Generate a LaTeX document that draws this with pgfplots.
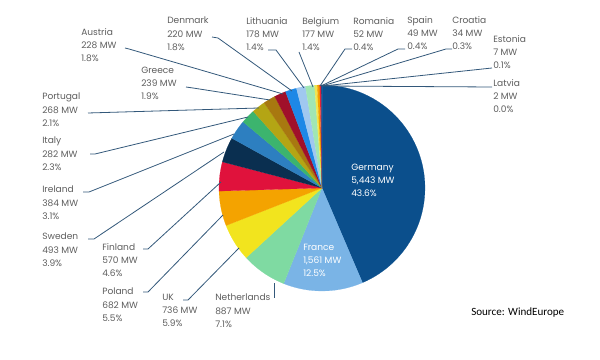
\documentclass[border=0pt]{standalone}
\usepackage{pgfplots}
\pgfplotsset{compat=1.18}
\usepackage{pgfplotstable}
\usepackage{fontspec}
\setmainfont{Poppins}
\newfontfamily\carlito{Carlito}

\definecolor{cGermany}{HTML}{0B4F8C}
\definecolor{cFrance}{HTML}{7AB4E6}
\definecolor{cNetherlands}{HTML}{7FDAA2}
\definecolor{cUK}{HTML}{F2E41E}
\definecolor{cPoland}{HTML}{F4A300}
\definecolor{cFinland}{HTML}{E0123C}
\definecolor{cSweden}{HTML}{0A2F50}
\definecolor{cIreland}{HTML}{2D7FC0}
\definecolor{cItaly}{HTML}{3CB46E}
\definecolor{cPortugal}{HTML}{B4A514}
\definecolor{cGreece}{HTML}{A87810}
\definecolor{cAustria}{HTML}{A0102A}
\definecolor{cDenmark}{HTML}{1E88E6}
\definecolor{cLithuania}{HTML}{A0C8F0}
\definecolor{cBelgium}{HTML}{A0E6B4}
\definecolor{cRomania}{HTML}{F0E650}
\definecolor{cSpain}{HTML}{F5A000}
\definecolor{cCroatia}{HTML}{E0203C}
\definecolor{cEstonia}{HTML}{0A2F50}
\definecolor{cLatvia}{HTML}{1E88E6}
\definecolor{leader}{HTML}{33587A}
\definecolor{labelgray}{HTML}{5E5E5E}

\pgfplotstableread[col sep=comma]{
name,mw,color
Germany,5443,cGermany
France,1561,cFrance
Netherlands,887,cNetherlands
UK,736,cUK
Poland,682,cPoland
Finland,570,cFinland
Sweden,493,cSweden
Ireland,384,cIreland
Italy,282,cItaly
Portugal,268,cPortugal
Greece,239,cGreece
Austria,228,cAustria
Denmark,220,cDenmark
Lithuania,178,cLithuania
Belgium,177,cBelgium
Romania,52,cRomania
Spain,49,cSpain
Croatia,34,cCroatia
Estonia,7,cEstonia
Latvia,2,cLatvia
}\piedata

\begin{document}
\begin{tikzpicture}[
  lbl/.style={font=\fontsize{6.8}{9.8}\selectfont, text=labelgray, align=left, anchor=north west, inner sep=0pt},
  wl/.style={font=\fontsize{6.8}{9.8}\selectfont, text=white, align=left, anchor=north west, inner sep=0pt},
  ll/.style={draw=leader, line width=0.6pt}]
\begin{axis}[hide axis, scale only axis, width=450pt, height=270pt,
  xmin=0, xmax=600, ymin=0, ymax=360, clip=false, no markers]
% total
\pgfplotstablegetrowsof{\piedata}
\pgfmathtruncatemacro{\nrows}{\pgfplotsretval-1}
\def\total{0}
\pgfplotsforeachungrouped \i in {0,...,\nrows}{%
  \pgfplotstablegetelem{\i}{mw}\of\piedata
  \pgfmathsetmacro{\total}{\total+\pgfplotsretval}%
}
\def\cum{0}
\pgfplotsforeachungrouped \i in {0,...,\nrows}{%
  \pgfplotstablegetelem{\i}{mw}\of\piedata \let\v\pgfplotsretval
  \pgfplotstablegetelem{\i}{color}\of\piedata \let\c\pgfplotsretval
  \pgfmathsetmacro{\a}{90-360*(\cum/\total)}%
  \pgfmathsetmacro{\cum}{\cum+\v}%
  \pgfmathsetmacro{\b}{90-360*(\cum/\total)}%
  \edef\tmp{\noexpand\addplot[fill=\c, draw=\c, line width=0.1pt, domain=\b:\a, samples=60]
    ({322+103*cos(x)},{172+103*sin(x)}) -- (axis cs:322,172) -- cycle;}%
  \tmp
}
% leader lines
\addplot[ll] coordinates {(492,273) (323,274)};
\addplot[ll] coordinates {(492,292) (323,274)};
\addplot[ll] coordinates {(452,311) (446,311) (322,274)};
\addplot[ll] coordinates {(405,311) (398,311) (321,274)};
\addplot[ll] coordinates {(352,311) (345,311) (320,274)};
\addplot[ll] coordinates {(299,308) (313,273)};
\addplot[ll] coordinates {(268,310) (276,310) (304,272)};
\addplot[ll] coordinates {(212,323) (218,322) (292,269)};
\addplot[ll] coordinates {(125,312) (129,311) (283,266)};
\addplot[ll] coordinates {(186,273) (193,272) (270,260)};
\addplot[ll] coordinates {(88,247) (259,252)};
\addplot[ll] coordinates {(90,206) (95,206) (248,243)};
\addplot[ll] coordinates {(83,168) (89,168) (234,226)};
\addplot[ll] coordinates {(88,121) (94,121) (224,208)};
\addplot[ll] coordinates {(143,111) (148,111) (221,178)};
\addplot[ll] coordinates {(143,68) (148,68) (223,145)};
\addplot[ll] coordinates {(183,60) (188,60) (239,112)};
\addplot[ll] coordinates {(274,62) (274,77)};
% labels
\node[lbl] at (axis cs:81,332) {Austria\\228 MW\\1.8\%};
\node[lbl] at (axis cs:167,343) {Denmark\\220 MW\\1.8\%};
\node[lbl] at (axis cs:246,343) {Lithuania\\178 MW\\1.4\%};
\node[lbl] at (axis cs:302,343) {Belgium\\177 MW\\1.4\%};
\node[lbl] at (axis cs:353,343) {Romania\\52 MW\\0.4\%};
\node[lbl] at (axis cs:407,344) {Spain\\49 MW\\0.4\%};
\node[lbl] at (axis cs:452,344) {Croatia\\34 MW\\0.3\%};
\node[lbl] at (axis cs:493,325) {Estonia\\7 MW\\0.1\%};
\node[lbl] at (axis cs:493,281) {Latvia\\2 MW\\0.0\%};
\node[lbl] at (axis cs:141,293) {Greece\\239 MW\\1.9\%};
\node[lbl] at (axis cs:42,267) {Portugal\\268 MW\\2.1\%};
\node[lbl] at (axis cs:42,223) {Italy\\282 MW\\2.3\%};
\node[lbl] at (axis cs:42,174) {Ireland\\384 MW\\3.1\%};
\node[lbl] at (axis cs:42,127) {Sweden\\493 MW\\3.9\%};
\node[lbl] at (axis cs:102,117) {Finland\\570 MW\\4.6\%};
\node[lbl] at (axis cs:102,72) {Poland\\682 MW\\5.5\%};
\node[lbl] at (axis cs:162,66) {UK\\736 MW\\5.9\%};
\node[lbl] at (axis cs:215,66) {Netherlands\\887 MW\\7.1\%};
\node[wl] at (axis cs:351,196) {Germany\\5,443 MW\\43.6\%};
\node[wl] at (axis cs:303,116) {France\\1,561 MW\\12.5\%};
\node[anchor=north west, inner sep=0pt, font=\carlito\fontsize{8.3}{10}\selectfont, text=black] at (axis cs:471,52) {Source: WindEurope};
\end{axis}
\path (current axis.south west) rectangle (current axis.north east);
\end{tikzpicture}
\end{document}
